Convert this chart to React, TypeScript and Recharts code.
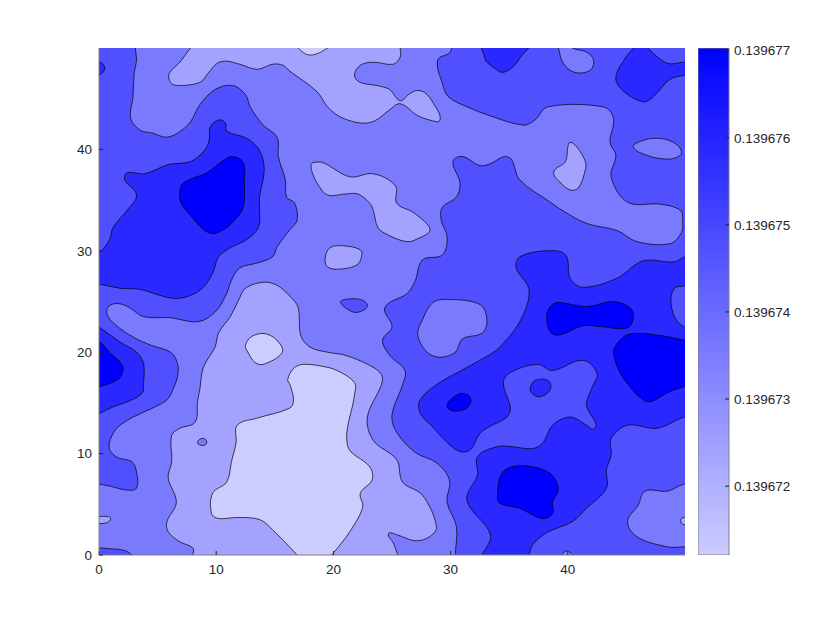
import { Bar, BarChart, Scatter, ScatterChart, XAxis, YAxis } from 'recharts';

type Pair = [number, number];

// fill colour for each contour band, light to dark
const bandColors = ['#ccccff', '#a3a3ff', '#7a7aff', '#5050ff', '#2929ff', '#0000ff'];

const xTicks = [0, 10, 20, 30, 40];
const yTicks = [0, 10, 20, 30, 40];
const colorTicks = [0.139672, 0.139673, 0.139674, 0.139675, 0.139676, 0.139677];
const colorRange = [0.13967121, 0.13967703];

// whole plot, sits under everything
const background: Pair[] = [[-2, -2], [52, -2], [52, 52], [-2, 52]];

// contours, in data units. Points a little outside 0..50 get clipped.
const leftBig: Pair[] = [[3.1,50.8],[3.1,50],[3.2,48.8],[3,47.5],[2.9,45.2],[2.7,43.1],[3.5,41.9],[4.6,41.6],[5.7,41.2],[6.7,41.6],[7.8,42.7],[8.6,44.4],[9.9,45.9],[11.4,46.3],[12.5,45.4],[12.9,44.2],[14,42.4],[15.2,41.2],[15.3,39.3],[15.9,37],[16,35.3],[16.7,34.7],[16.9,33],[16.3,32.1],[15.2,30.4],[14.8,29.4],[13.5,28.8],[12,28.3],[11.3,27.1],[10.9,25.8],[10.1,24.2],[9,23.2],[8,23],[6.1,23.4],[3.8,23.5],[2.6,24.4],[1.6,24.8],[0.8,24.5],[0.7,23.7],[1.4,22.7],[2.9,21.5],[4.4,20.7],[6.1,20],[6.7,18.9],[6.7,17.6],[6.3,16.3],[5.8,15.3],[4.6,14.5],[2.9,13.6],[1.6,12.6],[1,11.5],[0.9,10.4],[1.6,9.6],[2.8,9.2],[3.2,8.2],[3.2,6.6],[2.4,6.4],[0.9,6.8],[0,7],[-0.8,7.1],[-0.8,50.8]];
const upperLeftDark: Pair[] = [[3.2,35.5],[2.2,37],[2.4,37.7],[3.9,37.6],[5.9,38.5],[7.8,38.8],[9,39.9],[9.4,40.9],[9.5,42.2],[10.2,42.9],[10.8,42.6],[10.9,41.8],[12.6,41.1],[13.7,39.9],[14.1,38],[13.7,35.3],[13.7,34],[13.6,32.3],[12.6,31.1],[11.2,30.3],[10.2,29.4],[9.7,27.8],[8.9,26.4],[7.8,25.6],[6.5,25.3],[5.2,25.6],[3.5,26.2],[1.8,26.3],[0.1,26.7],[-0.8,26.8],[-0.8,29.5],[0.1,29.9],[0.9,31.1],[1.2,32.3],[2.4,34]];
const upperLeftCore: Pair[] = [[6.9,35.8],[7.2,36.7],[9.2,37.7],[10.6,38.9],[11.4,39.3],[12.3,38.7],[12.4,36.7],[12.3,34.3],[11.4,32.8],[10.5,32],[9.7,31.7],[8.9,32.1],[7.8,33.5],[7,34.7]];
const cornerDot: Pair[] = [[-0.8,48.6],[0.1,48.6],[0.5,48],[0.1,47.4],[-0.8,47.3]];
const leftEdgeDark: Pair[] = [[-0.8,23],[0.1,22.4],[1.8,21],[3.2,20],[3.8,18.9],[3.8,16.8],[3.7,16],[2.8,15.3],[1.2,14.6],[0.1,14],[-0.8,13.5]];
const leftEdgeCore: Pair[] = [[-0.8,21.6],[0.1,21],[0.9,20],[2,18.7],[2,18],[1.6,17.3],[0.1,16.6],[-0.8,16.3]];
const bottomLeftSliver: Pair[] = [[-0.8,0.8],[0.1,0.7],[1.1,0.6],[2,0.5],[2.6,0.2],[3.1,-0.5],[-0.8,-0.5]];
const leftEdgeLight: Pair[] = [[-0.8,3.8],[0.1,3.8],[0.7,3.8],[1,3.6],[0.7,3.2],[0.1,3.1],[-0.8,3.1]];

const topLight: Pair[] = [[8.3,50.8],[7.8,50],[6.9,48.6],[6,47.5],[6.1,46.6],[6.7,46.3],[8.6,46.6],[9.3,47.5],[10.1,48.5],[10.9,48.7],[12,48.4],[13.5,47.9],[14.8,48.4],[15.7,48.3],[16.3,47.7],[18.6,45.7],[19.5,44.2],[20.6,43.2],[22.3,42.6],[23.5,42.8],[24.8,43.9],[25.7,44.5],[27.1,43.4],[28.2,42.9],[29.1,42.9],[28.5,44.6],[27.8,45.6],[27.1,45.8],[26.4,45.4],[25.7,44.8],[24.8,45.9],[23.7,46.3],[22.3,46.6],[21.8,47.3],[22.3,48.3],[23.4,48.6],[25.1,48.4],[25.7,49.1],[25.7,50],[25.7,50.8]];
const topLightest: Pair[] = [[16.7,50.8],[17,50],[18,49.3],[19.5,50],[20,50.8]];
const midLight: Pair[] = [[18.1,38.5],[18.3,38.7],[19.1,38.7],[21.4,37.3],[23.4,37.6],[25.3,36.4],[25.4,34.7],[26.8,33.8],[28.1,32.5],[28.2,31.9],[27.4,31.3],[26.3,30.9],[24.6,31.6],[23.8,32.3],[23.4,34],[23.1,34.7],[22.1,35.6],[21,35.6],[19.5,35.5],[18.7,36.5],[18.2,37.7]];
const midOval: Pair[] = [[19.3,29.3],[19.7,30.3],[20.7,30.5],[22.3,30.1],[22.4,29.4],[22,28.6],[20.6,28.2],[19.5,28.4]];
const midDarkDot: Pair[] = [[20.6,24.9],[21,25.2],[22.3,25.2],[22.9,24.6],[22.3,24],[21.6,24]];

const centerLight: Pair[] = [[8.6,16.3],[8.9,18.5],[9.9,20.5],[10.2,21.9],[11.2,23.5],[11.9,25.1],[12.5,26.3],[14,26.9],[15.2,26.6],[16.3,25.5],[17,24.4],[17.2,21.7],[18,20.5],[19.5,20],[21,19.7],[23.1,18.7],[24.1,17.8],[24.1,16.8],[22.9,13.6],[23.4,11.3],[25.4,9.4],[25.9,7.2],[27.6,5.9],[28.8,2.8],[28.2,1.8],[27,1.4],[25.4,2],[24.7,2.1],[25.1,1.2],[25.5,0],[25.7,-0.7],[7.8,-0.7],[8,0],[8,0.7],[6.9,1.3],[5.9,2.3],[5.8,3.3],[6.6,5.2],[5.9,7.6],[6.2,9.2],[6.2,11.8],[6.9,12.5],[8.2,13.1],[8.4,15.1]];
const centerLightest: Pair[] = [[16.1,17.3],[16.6,18.4],[17.4,18.8],[19.1,18.6],[20.3,18.2],[21.8,17],[21.8,15.8],[21.2,10.8],[23.1,8.7],[23.3,7.4],[22.3,6.1],[22.5,4.7],[21.4,2.3],[20,0.2],[19.3,-0.7],[17.3,-0.7],[16.9,0],[14.8,2.5],[13.7,3.5],[11.8,3.7],[10.2,3.6],[9.6,4.1],[9.7,6.1],[10.9,7.2],[11.3,9.2],[11.7,11.1],[11.8,12.8],[13.5,13.5],[16.3,14.5],[16.6,15.3],[16.3,16.8]];
const smallLightest: Pair[] = [[12.5,20.7],[13.1,21.6],[14.3,21.8],[15.4,20.9],[15.6,19.9],[14,18.8],[13.3,19],[12.7,20]];
const tinyDot: Pair[] = [[8.4,11.1],[8.9,11.5],[9.2,11.1],[8.9,10.8]];

const rightBig: Pair[] = [[30.1,50.8],[30.1,50],[29.9,49.5],[28.9,48.8],[29.3,46.5],[29.8,45.2],[31.4,44.2],[33.4,43.3],[36.2,42.4],[37.2,42.9],[38.3,44.2],[43,44.2],[43.9,43.1],[43.6,40.7],[44.1,39.4],[43.7,37.3],[45.1,34.8],[47.9,34.6],[49.6,34],[49.8,33],[49.7,31.8],[48.7,30.7],[45.9,30.9],[44.2,32],[41.6,32.7],[39.5,34],[38.5,34.8],[35.9,37],[35.2,39],[34.6,39.3],[33.4,38.6],[32.5,38.4],[31,39.3],[30.2,38.8],[30.8,36.7],[30.5,35.3],[29.3,34.3],[29.2,33],[29.7,31.4],[29.3,29.6],[27.6,29.1],[27,27.1],[26.3,25.8],[24.4,24.4],[25,22.5],[24.2,21.2],[24.8,19.7],[26.1,18.2],[25.9,16.8],[25,13.8],[25.4,12.1],[27,10.1],[28.8,9.1],[29.9,7.4],[29.7,5.2],[30.5,2.8],[30.4,0],[30.4,-1],[50.9,-1],[50.9,50.8]];
const topIsland: Pair[] = [[39,50.8],[39.2,50],[39.6,48.5],[40.6,47.6],[41.9,47.8],[42.2,48.8],[41.6,49.6],[40.4,50],[39.8,50.8]];
const rightOval: Pair[] = [[45.6,40.2],[46.2,40.8],[47.6,41.1],[49,40.7],[49.7,39.7],[49,39.1],[47.9,39.1],[46.8,39.4]];
const middleIsland: Pair[] = [[27.2,21.7],[27.6,23.2],[28.5,24.9],[29.9,25.2],[32.5,24.7],[33.1,23.2],[32.7,21.9],[31,21.3],[30.4,20],[29.1,19.5],[28,20]];
const bottomRight: Pair[] = [[50.9,7.1],[49.9,7],[48.5,6.3],[46.6,6.3],[46,4.9],[45.1,3.3],[45.9,1.8],[48.5,0.8],[49.9,0.8],[50.9,0.8]];
const rightEdgeLight: Pair[] = [[50.9,3.7],[49.9,3.7],[49.6,3.4],[49.9,3],[50.9,3]];
const bottomBump: Pair[] = [[39.3,-0.7],[39.5,0],[39.9,0.4],[40.4,0],[40.6,-0.7]];
const fingerLight: Pair[] = [[40.2,40.7],[40.8,40.2],[41.5,38.8],[41.5,38],[40.9,36.2],[40.2,36],[39.3,36.8],[38.8,37.8],[39.8,38.8],[40,40.2]];

const topDarkA: Pair[] = [[32.7,50.8],[32.9,49.1],[33.1,48.6],[34,47.8],[34.5,47.6],[35.3,48.1],[35.9,49],[36.8,50.8]];
const topDarkB: Pair[] = [[46,50.8],[45.6,50],[44.9,49],[44.1,47.1],[44.6,45.9],[46.4,44.7],[47.3,45.2],[48.7,46.9],[49.9,47.3],[50.9,47.4],[50.9,48.6],[49.9,48.6],[48.5,48.5],[46.8,50],[46.2,50.8]];
const rightDark: Pair[] = [[33.4,19.8],[34.2,20.5],[35.9,23],[36.7,26.1],[35.6,28.3],[35.9,29.4],[38.2,30],[39.8,29.6],[40.2,27.3],[41.3,26.4],[44.2,27.3],[46.4,29],[49,28.9],[49.8,29.3],[50.9,29.9],[50.9,13.8],[49.9,13.6],[47.6,12.5],[45.1,12.8],[43.7,11.5],[43.7,9.9],[43.3,8.4],[43.3,6.6],[41.6,4.6],[40.4,3.3],[38.2,2.2],[37,1],[36.7,0],[36.5,-1],[32.5,-1],[32.7,0],[33.4,2],[31.4,5.4],[32.3,7.9],[32.3,9.7],[34,10.7],[35.1,10.7],[37,10.5],[37.9,11.1],[38.7,12.8],[40.2,13.6],[41.6,12.8],[42.2,12.4],[42.4,12.9],[41.6,14.8],[42.1,16.6],[42.5,17.9],[41.3,19.2],[38.7,18.2],[37.4,18.8],[35.1,18],[34.5,17],[35.1,14.5],[34.8,13.6],[33.4,12.7],[32.5,12],[31.7,10.4],[30.8,10.2],[29.7,11.1],[28.5,12.6],[27.4,14],[27.4,15.3],[28.8,16.8],[31.4,18.5]];
const rightLobe: Pair[] = [[50.9,26.6],[49.8,26.5],[49.1,26.3],[48.8,25.1],[49.1,23.5],[49.8,22.6],[50.9,22.4]];
const coreWide: Pair[] = [[38.2,23.5],[38.5,24.5],[39.2,24.9],[41.6,24.5],[43.9,25],[45.3,24.4],[45.6,23.5],[45.1,22.4],[43,22.5],[41.3,22.6],[39.3,21.7],[38.5,22]];
const coreRight: Pair[] = [[43.9,19.9],[44.3,21],[45.3,21.8],[47.6,21.7],[49.9,21.2],[50.9,21],[50.9,16.8],[49.9,16.6],[48.5,16],[47,15.1],[46.2,15.5],[45.3,16.6],[44.5,17.9]];
const coreBottom: Pair[] = [[34,5.9],[34.4,8.1],[35.8,8.8],[38.3,8.2],[39.2,6.6],[38.7,5.2],[38.7,4.1],[37.8,3.6],[35.9,4.6],[34.2,5.1]];
const coreDot: Pair[] = [[29.7,14.8],[30.8,15.9],[31.7,15.5],[31.4,14.5],[30.2,14.2]];
const lobeDot: Pair[] = [[36.8,16.5],[37.2,17.2],[38.3,17.2],[38.5,16.3],[37.6,15.6],[36.9,16]];

// painted in this order, later ones on top. Second value is the index in bandColors
const contours: [Pair[], number][] = [
  [background, 2],
  [leftBig, 3], [upperLeftDark, 4], [upperLeftCore, 5], [cornerDot, 4],
  [leftEdgeDark, 4], [leftEdgeCore, 5], [bottomLeftSliver, 3], [leftEdgeLight, 1],
  [topLight, 1], [topLightest, 0], [midLight, 1], [midOval, 1], [midDarkDot, 3],
  [centerLight, 1], [centerLightest, 0], [smallLightest, 0], [tinyDot, 2],
  [rightBig, 3], [topIsland, 2], [rightOval, 2], [middleIsland, 2], [bottomRight, 2],
  [rightEdgeLight, 1], [bottomBump, 2], [fingerLight, 1],
  [topDarkA, 4], [topDarkB, 4], [rightDark, 4], [rightLobe, 3],
  [coreWide, 5], [coreRight, 5], [coreBottom, 5], [coreDot, 5], [lobeDot, 4],
];

const fontFamily = '"Liberation Sans", Arial, sans-serif';
const tickStyle = { fontSize: 13.5, fill: '#262626', fontFamily };
const frame = { stroke: '#808080' };
const tickLine = { stroke: '#262626' };

// closed spline through the points. Handle length follows each segment so uneven spacing stays round
function smoothPath(points: { x: number; y: number }[]) {
  const n = points.length;
  const unit = (a: { x: number; y: number }, b: { x: number; y: number }) => {
    const len = Math.hypot(b.x - a.x, b.y - a.y) || 1;
    return [(b.x - a.x) / len, (b.y - a.y) / len];
  };
  let d = `M${points[0].x},${points[0].y}`;
  for (let i = 0; i < n; i++) {
    const p0 = points[(i - 1 + n) % n];
    const p1 = points[i];
    const p2 = points[(i + 1) % n];
    const p3 = points[(i + 2) % n];
    const seg = Math.hypot(p2.x - p1.x, p2.y - p1.y) / 3;
    const [ax, ay] = unit(p0, p2);
    const [bx, by] = unit(p1, p3);
    d += `C${p1.x + ax * seg},${p1.y + ay * seg},${p2.x - bx * seg},${p2.y - by * seg},${p2.x},${p2.y}`;
  }
  return d + 'Z';
}

const noPoint = () => <g />;

function ContourChart() {
  return (
    <ScatterChart width={830} height={623} margin={{ top: 48, right: 145, bottom: 0, left: 0 }}>
      {contours.map(([pairs, band], i) => (
        <Scatter
          key={i}
          data={pairs.map(([x, y]) => ({ x, y }))}
          isAnimationActive={false}
          shape={noPoint}
          legendType="none"
          line={(props: any) => (
            <path
              d={smoothPath(props.points)}
              fill={bandColors[band]}
              stroke={i === 0 ? 'none' : '#000'}
              strokeWidth={0.7}
            />
          )}
        />
      ))}
      <XAxis
        type="number"
        dataKey="x"
        domain={[0, 50]}
        ticks={xTicks}
        allowDataOverflow
        height={68}
        tickSize={-4}
        tickMargin={13}
        tick={tickStyle}
        axisLine={frame}
        tickLine={tickLine}
        zIndex={700}
      />
      <YAxis
        type="number"
        dataKey="y"
        domain={[0, 50]}
        ticks={yTicks}
        allowDataOverflow
        width={99}
        tickSize={-4}
        tickMargin={11}
        tick={tickStyle}
        axisLine={frame}
        tickLine={tickLine}
        zIndex={700}
      />
      <XAxis xAxisId="top" orientation="top" type="number" domain={[0, 50]} ticks={xTicks} height={0} tickSize={-4} tick={false} axisLine={frame} tickLine={tickLine} zIndex={700} />
      <YAxis yAxisId="right" orientation="right" type="number" domain={[0, 50]} ticks={yTicks} width={0} tickSize={-4} tick={false} axisLine={frame} tickLine={tickLine} zIndex={700} />
    </ScatterChart>
  );
}

function ColorBar() {
  return (
    <BarChart
      width={132}
      height={623}
      data={[{ name: 'range', range: colorRange }]}
      margin={{ top: 48, right: 0, bottom: 68, left: 0 }}
      barCategoryGap={0}
    >
      <defs>
        <linearGradient id="bandGradient" x1="0" y1="0" x2="0" y2="1">
          <stop offset="0%" stopColor="#0000ff" />
          <stop offset="100%" stopColor="#ccccff" />
        </linearGradient>
      </defs>
      <XAxis dataKey="name" hide />
      <Bar dataKey="range" fill="url(#bandGradient)" stroke="#808080" isAnimationActive={false} />
      <YAxis
        orientation="right"
        type="number"
        domain={colorRange}
        ticks={colorTicks}
        allowDataOverflow
        interval={0}
        width={101}
        tickSize={-4}
        tickMargin={9}
        tickFormatter={(v: number) => v.toFixed(6)}
        tick={tickStyle}
        axisLine={false}
        tickLine={tickLine}
        zIndex={700}
      />
    </BarChart>
  );
}

export default function App() {
  return (
    <div style={{ position: 'absolute', left: 0, top: 0, width: 830, height: 623, background: '#fff' }}>
      <ContourChart />
      <div style={{ position: 'absolute', left: 698, top: 0 }}>
        <ColorBar />
      </div>
    </div>
  );
}
